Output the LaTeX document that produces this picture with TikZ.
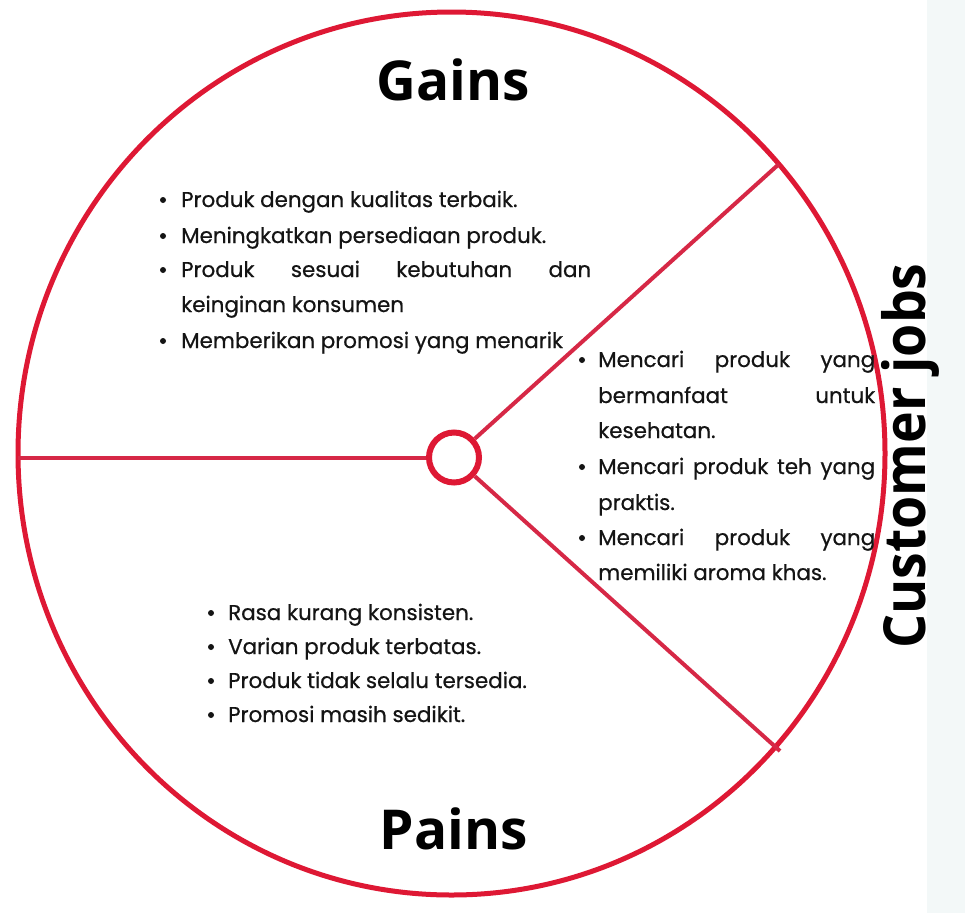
\documentclass[tikz,border=0pt]{standalone}
\usepackage{fontspec}
\setmainfont{Poppins}[FakeBold=0.6]
\newfontfamily\headfont{Open Sans}
\definecolor{cred}{RGB}{222,24,52}
\definecolor{cray}{RGB}{214,40,70}
\definecolor{strip}{RGB}{243,248,248}
\definecolor{ink}{RGB}{20,20,20}
\tikzset{
  ringline/.style={draw=cred, line width=5pt},
  rayline/.style={draw=cray, line width=4pt},
  head/.style={font=\headfont\bfseries\fontsize{55}{60}\selectfont, inner sep=0pt, text=black},
  body/.style={font=\fontsize{21.4}{24}\selectfont, inner sep=0pt, text=ink},
  dot/.style={circle, fill=ink, minimum size=6pt, inner sep=0pt},
}
\newcommand\bul[2]{\node[dot] (#1) at (#2) {};}
\newcommand\tline[3]{\node[body, anchor=base west] (#1) at (#2) {#3};}
\newcommand\jline[4]{\node[body, anchor=base west] (#1) at (#2) {\makebox[#3pt][s]{#4}};}
\begin{document}
\begin{tikzpicture}[x=1pt,y=-1pt]
\useasboundingbox (0,0) rectangle (965,913);
\fill[strip] (927,0) rectangle (965,913);
\draw[ringline] (451.5,453.5) ellipse [x radius=433.5pt, y radius=441.5pt];
\coordinate (L) at (18,457.5);
\coordinate (UR) at (779,164);
\coordinate (LR) at (780,751);
\node[circle, draw=cred, line width=6pt, minimum size=50pt, inner sep=0pt, fill=white] (hub) at (454,457.5) {};
\draw[rayline] (hub) -- (L);
\draw[rayline] (hub) -- (UR);
\draw[rayline] (hub) -- (LR);

\node[head, anchor=base] (gains) at (453.5,100) {Gains};
\node[head, anchor=base] (pains) at (454,849) {Pains};
\node[head, font=\headfont\bfseries\fontsize{58}{60}\selectfont, anchor=base, rotate=90] (jobs) at (925,456) {\scalebox{0.925}[1]{Customer jobs}};

% Gains
\bul{g1b}{163,200}
\tline{g1}{181,207}{Produk dengan kualitas terbaik.}
\bul{g2b}{163,236}
\tline{g2}{181,243}{Meningkatkan persediaan produk.}
\bul{g3b}{163,270}
\jline{g3}{181,277}{410}{Produk sesuai kebutuhan dan}
\tline{g3c}{181,312}{keinginan konsumen}
\bul{g4b}{163,341}
\tline{g4}{181,348}{Memberikan promosi yang menarik}

% Customer jobs
\bul{j1b}{582,360}
\jline{j1}{598,367}{277}{Mencari produk yang}
\jline{j1c}{598,403}{277}{bermanfaat untuk}
\tline{j1d}{598,438}{kesehatan.}
\bul{j2b}{582,467}
\jline{j2}{598,474}{277}{Mencari produk teh yang}
\tline{j2c}{598,510}{praktis.}
\bul{j3b}{582,538}
\jline{j3}{598,545}{277}{Mencari produk yang}
\tline{j3c}{598,580}{memiliki aroma khas.}

% Pains
\bul{p1b}{211,613}
\tline{p1}{228,620}{Rasa kurang konsisten.}
\bul{p2b}{211,647}
\tline{p2}{228,654}{Varian produk terbatas.}
\bul{p3b}{211,681}
\tline{p3}{228,688}{Produk tidak selalu tersedia.}
\bul{p4b}{211,715}
\tline{p4}{228,722}{Promosi masih sedikit.}
\end{tikzpicture}
\end{document}
